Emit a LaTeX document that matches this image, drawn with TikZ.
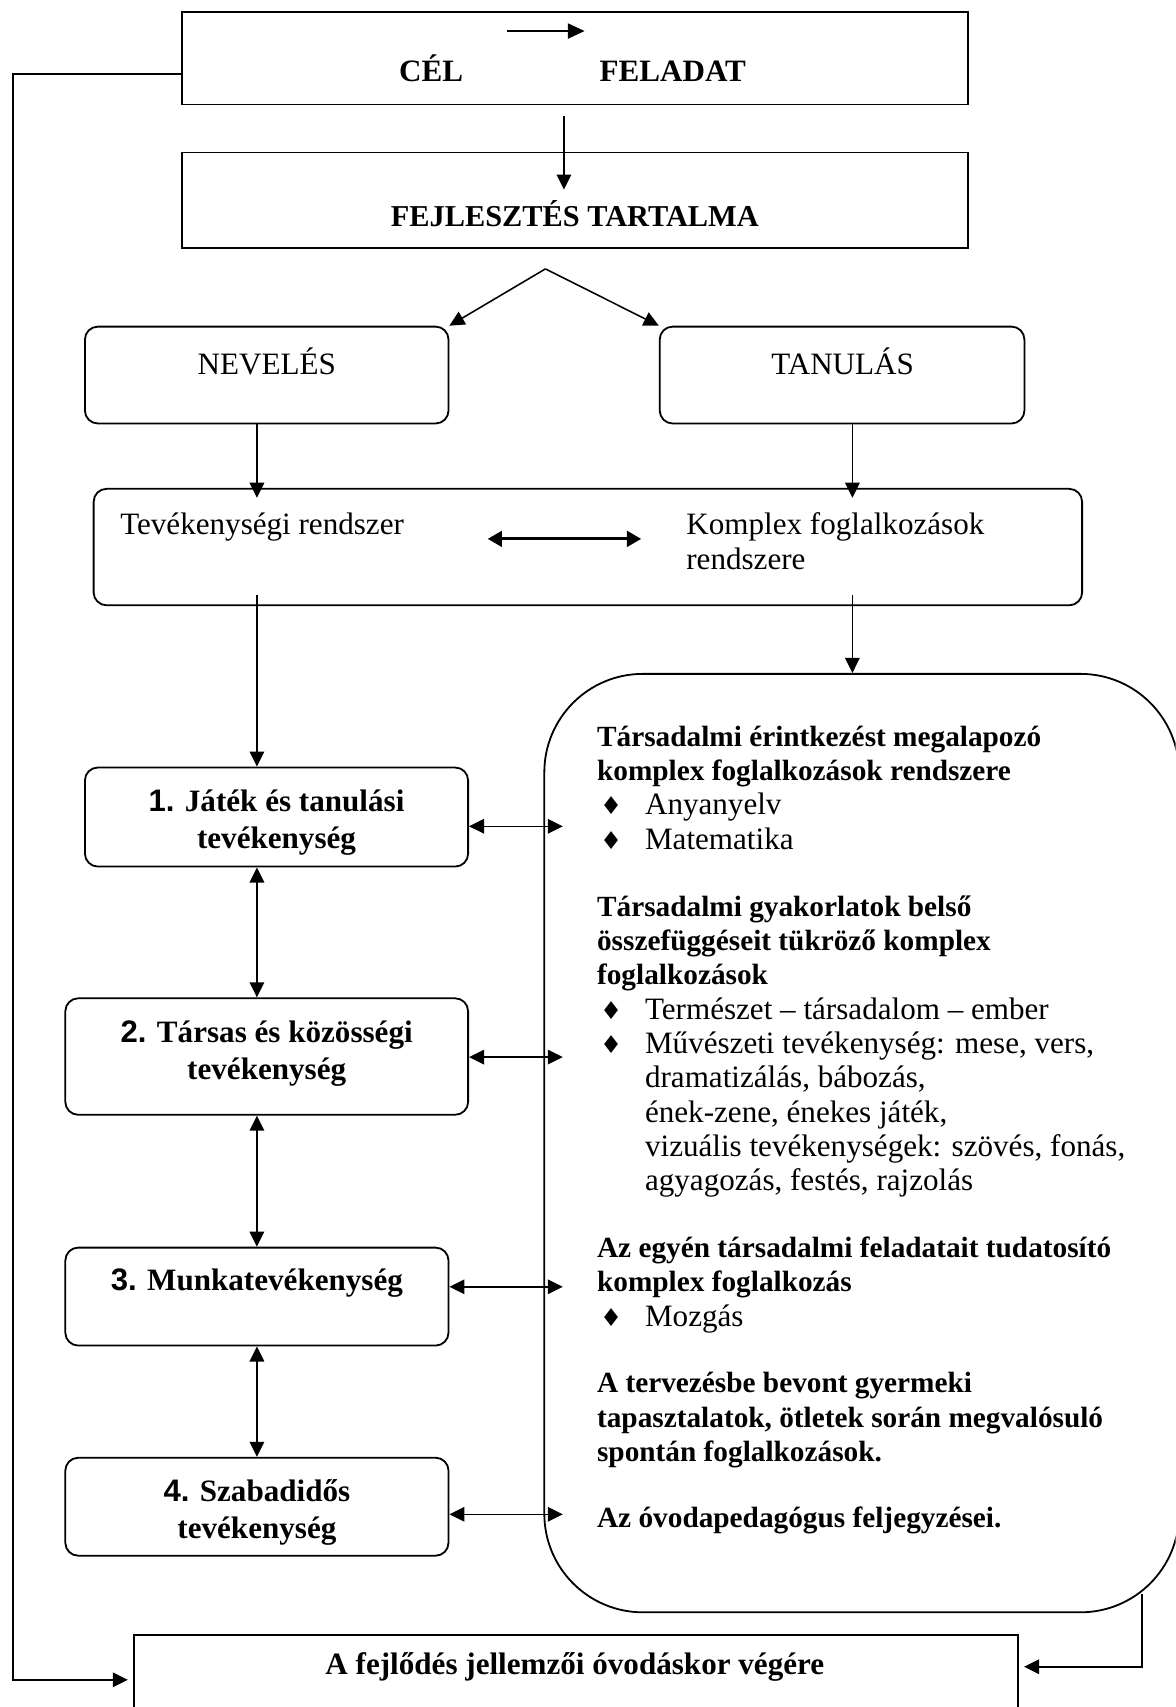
\documentclass[tikz,border=0pt]{standalone}
\usepackage{fontspec}
\setmainfont{Liberation Serif}
\newfontfamily\arialfont{Liberation Sans}
\newfontfamily\dejavufont{DejaVu Sans}
\usetikzlibrary{positioning}
\usetikzlibrary{arrows.meta,fit}
\newcommand{\nr}[1]{{\arialfont\bfseries #1}}
\newcommand{\hd}[1]{{\fontsize{11.3}{13.23}\selectfont\bfseries #1}}
\newcommand{\dia}{\makebox[18.5pt][l]{\hspace*{1.2pt}{\dejavufont\fontsize{9.5}{9.5}\selectfont ♦}}}
\newcommand{\ind}{\hspace*{18.5pt}}
\tikzset{
    frame/.style={draw, line width=0.7pt, inner sep=0pt},
    rframe/.style={frame, rounded corners=5pt},
    txt/.style={inner sep=0pt, font=\fontsize{12}{13.23}\selectfont},
    btxt/.style={inner sep=0pt, font=\fontsize{12}{14.3}\selectfont\bfseries, align=center},
    arr/.style={line width=0.6pt, -{Triangle[length=5.8pt,width=5.6pt]}},
    darr/.style={line width=0.6pt, {Triangle[length=5.8pt,width=5.6pt]}-{Triangle[length=5.8pt,width=5.6pt]}},
}

\begin{document}
\begin{tikzpicture}[x=0.42pt, y=-0.42pt]
    \useasboundingbox (0,0) rectangle (1080,1568);
    \clip (0,0) rectangle (1080,1568);
    \coordinate (colL) at (236,0);
    \coordinate (colM) at (518,0);
    \coordinate (colR) at (783,0);
    % cel - feladat
    \node[frame, fit={(167,11) (889,96)}] (aim) {};
    \node[btxt, anchor=base] (aimL) at (396,75) {CÉL};
    \node[btxt, anchor=base] (aimR) at (618,75) {FELADAT};
    \coordinate (aimA) at (466,28.5);
    \coordinate (aimB) at (537,28.5);
    \draw[line width=0.9pt, -{Triangle[length=6.5pt,width=5.8pt]}] (aimA) -- (aimB);
    \node[frame, fit={(167,140) (889,228)}] (dev) {};
    \node[btxt, font=\fontsize{11.7}{14}\selectfont\bfseries] (devtxt) at (528,196) {FEJLESZTÉS TARTALMA};
    \draw[arr] ([yshift=-4.2pt]aim.south -| colM) -- ([yshift=-14.7pt]dev.north -| colM);
    % neveles, tanulas
    \node[rframe, fit={(78,300) (412,389)}] (nev) {};
    \node[txt] (nevtxt) at (245,332) {NEVELÉS};
    \node[rframe, fit={(606,300) (941,389)}] (tan) {};
    \node[txt] (tantxt) at (774,332) {TANULÁS};
    \coordinate (apex) at (501,247);
    \draw[arr] (apex) -- (nev.north east);
    \draw[arr] (apex) -- (tan.north west);
    \node[rframe, fit={(86,449) (994,556)}] (sys) {};
    \node[txt, anchor=west] (systxtL) at (110,484) {Tevékenységi rendszer};
    \node[txt, anchor=west, align=left] (systxtR) at (630,497) {Komplex foglalkozások\\rendszere};
    \coordinate (sysA) at (448,495);
    \coordinate (sysB) at (589,495);
    \draw[line width=1.2pt, {Triangle[length=5.5pt,width=6pt]}-{Triangle[length=5.5pt,width=6pt]}] (sysA) -- (sysB);
    \draw[arr] (nev.south -| colL) -- ([yshift=-3.8pt]sys.north -| colL);
    \draw[arr] (tan.south -| colR) -- ([yshift=-3.8pt]sys.north -| colR);
    % komplex foglalkozasok
    \node[frame, rounded corners=38pt, fit={(500,619) (1083,1481)}] (forms) {};
    \draw[arr] ([yshift=4.2pt]sys.south -| colR) -- (forms.north -| colR);
    \node[txt, anchor=north west, align=left] (formstxt) at (548,663) {%
        \strut\hd{Társadalmi érintkezést megalapozó}\\
        \hd{komplex foglalkozások rendszere}\\
        \dia Anyanyelv\\
        \dia Matematika\\[12.7pt]
        \hd{Társadalmi gyakorlatok belső}\\
        \hd{összefüggéseit tükröző komplex}\\
        \hd{foglalkozások}\\
        \dia Természet – társadalom – ember\\
        \dia Művészeti tevékenység: mese, vers,\\
        \ind dramatizálás, bábozás,\\
        \ind ének-zene, énekes játék,\\
        \ind vizuális tevékenységek: szövés, fonás,\\
        \ind agyagozás, festés, rajzolás\\[12.5pt]
        \hd{Az egyén társadalmi feladatait tudatosító}\\
        \hd{komplex foglalkozás}\\
        \dia Mozgás\\[12.5pt]
        \hd{A tervezésbe bevont gyermeki}\\
        \hd{tapasztalatok, ötletek során megvalósuló}\\
        \hd{spontán foglalkozások.}\\[12.5pt]
        \hd{Az óvodapedagógus feljegyzései.}};
    % tevekenysegek
    \node[rframe, fit={(78,705) (430,796)}] (act1) {};
    \node[btxt] (act1txt) at (254,756) {\nr{1.} Játék és tanulási\\tevékenység};
    \node[rframe, fit={(60,917) (430,1024)}] (act2) {};
    \node[btxt] (act2txt) at (245,968) {\nr{2.} Társas és közösségi\\tevékenység};
    \node[rframe, fit={(60,1146) (412,1236)}] (act3) {};
    \node[btxt] (act3txt) at (236,1179) {\nr{3.} Munkatevékenység};
    \node[rframe, fit={(60,1339) (412,1429)}] (act4) {};
    \node[btxt] (act4txt) at (236,1389) {\nr{4.} Szabadidős\\tevékenység};
    \draw[arr] ([yshift=4.2pt]sys.south -| colL) -- (act1.north -| colL);
    \draw[darr] (act1.south -| colL) -- (act2.north -| colL);
    \draw[darr] (act2.south -| colL) -- (act3.north -| colL);
    \draw[darr] (act3.south -| colL) -- (act4.north -| colL);
    \coordinate (in1) at (517,759);
    \coordinate (in2) at (517,971);
    \coordinate (in3) at (517,1182);
    \coordinate (in4) at (517,1391);
    \draw[darr] (act1.east |- in1) -- (in1);
    \draw[darr] (act2.east |- in2) -- (in2);
    \draw[darr] (act3.east |- in3) -- (in3);
    \draw[darr] (act4.east |- in4) -- (in4);
    % fejlodes jellemzoi
    \node[frame, fit={(123,1502) (935,1620)}] (fin) {};
    \node[btxt] (fintxt) at (528,1531) {A fejlődés jellemzői óvodáskor végére};
    \coordinate (fbTop) at (12,68);
    \coordinate (fbBot) at (12,1543);
    \draw[arr] (aim.west |- fbTop) -- (fbTop) -- (fbBot) -- ([xshift=-2pt]fin.west |- fbBot);
    \coordinate (retTop) at (1049,1464);
    \coordinate (retBot) at (1049,1531);
    \draw[arr] (retTop) -- (retBot) -- ([xshift=2pt]fin.east |- retBot);
\end{tikzpicture}
\end{document}
